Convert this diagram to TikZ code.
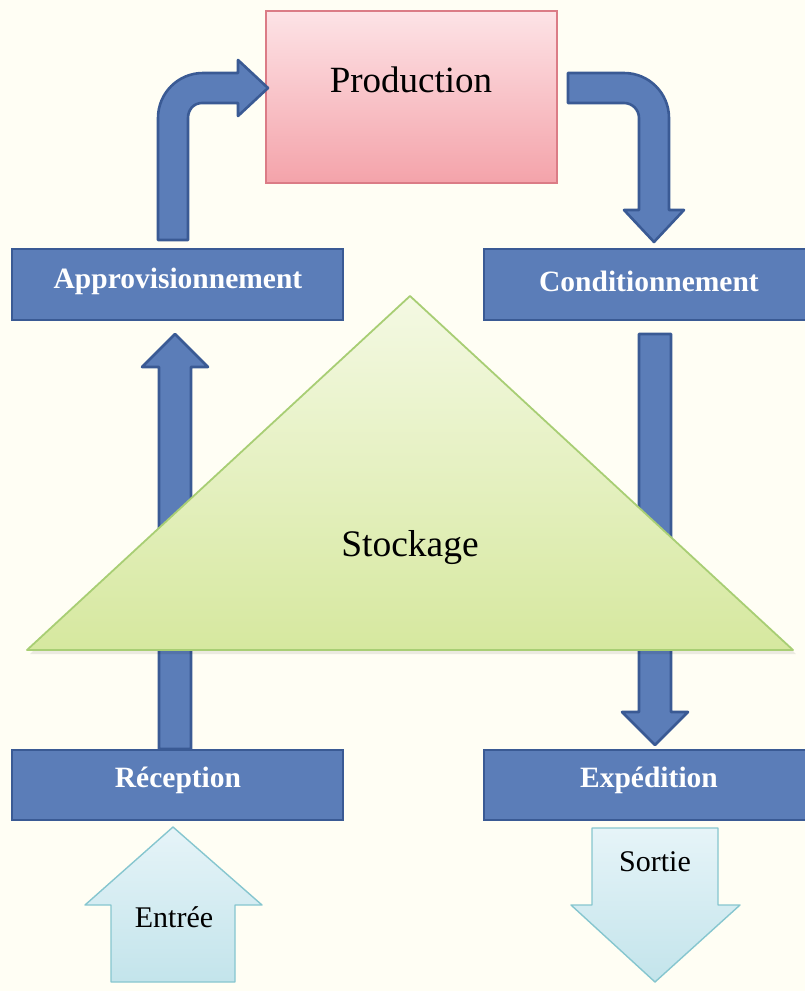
\documentclass[tikz,border=0pt]{standalone}
\usepackage{fontspec}
\setmainfont{Liberation Serif}
\begin{document}
\begin{tikzpicture}[x=1pt,y=-1pt,
  bluebox/.style={draw=blueedge,line width=2.8pt,fill=bluefill},
  bluearrow/.style={draw=blueedge,line width=2.6pt,fill=bluefill,line join=round},
  boxlabel/.style={text=white,font=\fontsize{29.5}{32}\selectfont\bfseries,inner sep=0pt},
  plainlabel/.style={text=black,inner sep=0pt},
  lightarrow/.style={draw=cyanedge,line width=1.4pt,top color=cyantop,bottom color=cyanbot,line join=round}
]
\definecolor{bgc}{HTML}{FFFEF4}
\definecolor{bluefill}{HTML}{5B7DB8}
\definecolor{blueedge}{HTML}{3A5A94}
\definecolor{pinktop}{HTML}{FDE3E6}
\definecolor{pinkbot}{HTML}{F4A3AA}
\definecolor{pinkedge}{HTML}{DB7C86}
\definecolor{greentop}{HTML}{F4F9E3}
\definecolor{greenbot}{HTML}{D6E89F}
\definecolor{greenedge}{HTML}{A8CE74}
\definecolor{cyantop}{HTML}{E6F4F8}
\definecolor{cyanbot}{HTML}{C3E4EB}
\definecolor{cyanedge}{HTML}{86C6CF}

\useasboundingbox (0,0) rectangle (805,991);
\fill[bgc] (0,0) rectangle (805,991);

% Production box
\draw[draw=pinkedge,line width=1.6pt,top color=pinktop,bottom color=pinkbot]
  (266,11) rectangle (557,183);
\node[plainlabel,font=\fontsize{37}{40}\selectfont] (prod) at (411,80) {Production};

% blue boxes
\draw[bluebox] (12,249) rectangle (343,320);
\node[boxlabel] (appro) at (178,281) {Approvisionnement};
\draw[bluebox] (484,249) rectangle (810,320);
\node[boxlabel] (cond) at (649,281) {Conditionnement};
\draw[bluebox] (12,750) rectangle (343,820);
\node[boxlabel] (recep) at (178,780) {Réception};
\draw[bluebox] (484,750) rectangle (810,820);
\node[boxlabel] (exped) at (649,780) {Expédition};

% bent arrow top-left
\draw[bluearrow] (158,240) -- (158,118)
  .. controls (158,93.1) and (178.1,73) .. (203,73)
  -- (238,73) -- (238,60) -- (268,88) -- (238,116) -- (238,103)
  -- (202,103) .. controls (193.7,103) and (188,109.7) .. (188,118)
  -- (188,240) -- cycle;

% bent arrow top-right
\draw[bluearrow] (568,73) -- (624,73)
  .. controls (648.9,73) and (669,93.1) .. (669,118)
  -- (669,210) -- (684,210) -- (654,242) -- (624,210) -- (639,210)
  -- (639,118) .. controls (639,109.7) and (632.3,103) .. (624,103)
  -- (568,103) -- cycle;

% vertical arrow up (Reception -> Approvisionnement)
\draw[bluearrow] (159,749) -- (159,367) -- (142,367) -- (175,334)
  -- (208,367) -- (191,367) -- (191,749) -- cycle;

% vertical arrow down (Conditionnement -> Expedition)
\draw[bluearrow] (639,334) -- (671,334) -- (671,712) -- (688,712)
  -- (655,745) -- (622,712) -- (639,712) -- cycle;

% triangle Stockage
\fill[black,opacity=0.08] (412,300) -- (796,654) -- (30,654) -- cycle;
\draw[draw=greenedge,line width=1.8pt,top color=greentop,bottom color=greenbot,line join=round]
  (410,296) -- (793,650) -- (27,650) -- cycle;
\node[plainlabel,font=\fontsize{37.5}{40}\selectfont] (stock) at (410,548) {Stockage};

% Entree arrow (up)
\draw[lightarrow] (111,982) -- (111,905) -- (85,905) -- (173,827)
  -- (262,905) -- (235,905) -- (235,982) -- cycle;
\node[plainlabel,font=\fontsize{30}{32}\selectfont] (entree) at (174,917) {Entrée};

% Sortie arrow (down)
\draw[lightarrow] (592,828) -- (718,828) -- (718,905) -- (740,905)
  -- (655,982) -- (571,905) -- (592,905) -- cycle;
\node[plainlabel,font=\fontsize{30}{32}\selectfont] (sortie) at (655,862) {Sortie};
\end{tikzpicture}
\end{document}
